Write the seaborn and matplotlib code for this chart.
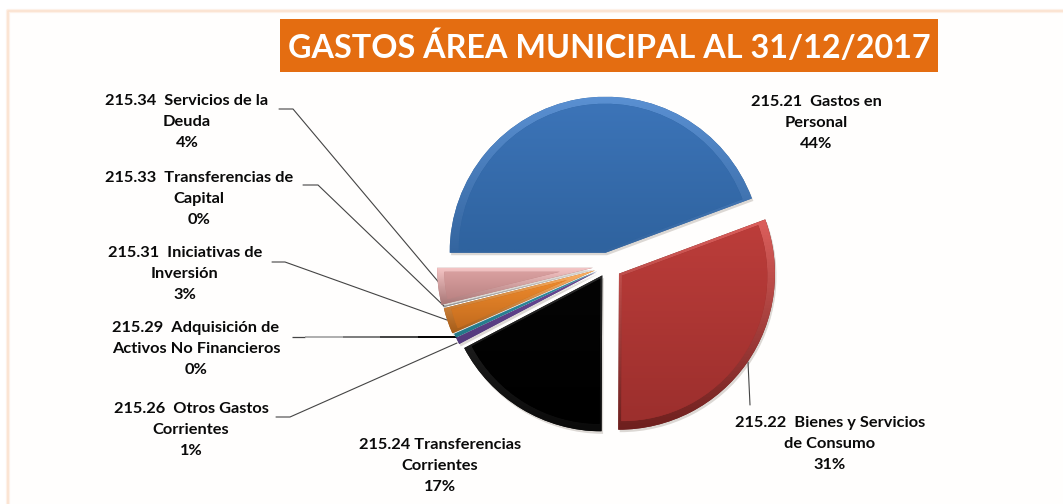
"""
Gastos area municipal al 31/12/2017, exploded pie with callouts.
"""
import numpy as np
import matplotlib.pyplot as plt
import seaborn as sns
from matplotlib.colors import LinearSegmentedColormap
from matplotlib.patches import Rectangle

# slices, clockwise from the 9 o'clock position
categories = ["215.21  Gastos en\nPersonal", "215.22  Bienes y Servicios\nde Consumo",
              "215.24 Transferencias\nCorrientes", "215.26  Otros Gastos\nCorrientes",
              "215.29  Adquisición de\nActivos No Financieros", "215.31  Iniciativas de\nInversión",
              "215.33  Transferencias de\nCapital", "215.34  Servicios de la\nDeuda"]
shares = [44.3, 30.7, 17.2, 0.7, 0.4, 2.7, 0.1, 3.8]
share_labels = ["44%", "31%", "17%", "1%", "0%", "3%", "0%", "4%"]
title = "GASTOS ÁREA MUNICIPAL AL 31/12/2017"

# per slice styles: offset from centre, fill top/bottom, rim top/bottom, straight edge inset
offsets = [13.5, 13.4, 11, 12, 12, 13.6, 14, 15]
fill_top = ["#3C74B8", "#BC3D3A", "#040404", "#6A4A9A", "#2E93A8", "#EE8A2C", "#C8C8C8", "#D9A0A0"]
fill_bot = ["#2F639F", "#9C2F2D", "#000000", "#54397C", "#247888", "#C46C1E", "#A8A8A8", "#BC8484"]
rim_top = ["#5A90D2", "#DC5F5B", "#2A2A2A", "#6A4A9A", "#2E93A8", "#FFB264", "#D8D8D8", "#F4C4C4"]
rim_bot = ["#34659F", "#6E1F1E", "#0A0A0A", "#54397C", "#247888", "#A65C18", "#909090", "#A87676"]
insets = [2.5, 3, 2, 0, 0, 2.5, 0, 4]

# label text centre in pixels and leader lines
label_pos = [(816, 123), (830, 444), (440, 466), (191, 430), (196, 349), (185, 274), (199, 199), (187, 122)]
leaders = [None,
           [(748, 362), (750, 405)],
           None,
           [(276, 417), (290, 417), (457, 343)],
           None,
           [(272, 262), (285, 262), (447, 320)],
           [(303, 185), (318, 185), (445, 307)],
           [(279, 109), (293, 109), (441, 285)]]
# the Adquisición leader fades from grey to black
fade_leader = [(292, 305, "#444444", 0.9), (305, 343, "#999999", 1.1), (343, 380, "#666666", 1.2),
               (380, 418, "#333333", 1.3), (418, 457, "#000000", 1.4)]

W, H = 1063, 504
CENTER = (608, H - 266)
RADIUS = 156
RIM = 7


def gradient_fill(ax, wedge, top, bottom):
    cmap = LinearSegmentedColormap.from_list("g", [top, bottom])
    box = wedge.get_path().get_extents(wedge.get_patch_transform())
    grad = np.linspace(0, 1, 64).reshape(-1, 1)
    im = ax.imshow(grad, cmap=cmap, aspect="auto", zorder=wedge.get_zorder(),
                   extent=(box.x0, box.x1, box.y0, box.y1))
    im.set_clip_path(wedge)


sns.set_theme(style="white")
plt.rcParams["font.family"] = ["Lato", "DejaVu Sans"]

fig = plt.figure(figsize=(W / 100, H / 100), dpi=100, facecolor="white")
ax = fig.add_axes([0, 0, 1, 1])

# frame is only a top and a left line running off the picture
ax.add_patch(Rectangle((8, 0), W - 8, H - 10, facecolor="#FFFEFD", edgecolor="none", zorder=1))
ax.plot([8, 8, W], [0, H - 10.5, H - 10.5], color="#FDF1E8", linewidth=3.0, zorder=1.1)
ax.plot([8, 8, W], [0, H - 10.5, H - 10.5], color="#FBE2CF", linewidth=1.2, zorder=1.2)

# soft shadow, rim layer, then the main fill inset from the rim
ax.pie(shares, explode=offsets, startangle=180, counterclock=False, radius=RADIUS,
       center=(CENTER[0] + 1.5, CENTER[1] - 2.5), colors=["#DCD8D4"] * len(shares),
       wedgeprops={"linewidth": 0, "zorder": 2}, normalize=True)
rim, _ = ax.pie(shares, explode=offsets, startangle=180, counterclock=False, radius=RADIUS,
                center=CENTER, colors=rim_bot, wedgeprops={"linewidth": 0, "zorder": 3}, normalize=True)
fill, _ = ax.pie(shares, explode=offsets, startangle=180, counterclock=False, radius=RADIUS - RIM,
                 center=CENTER, colors=fill_bot, wedgeprops={"linewidth": 0, "zorder": 4}, normalize=True)
for i in range(len(shares)):
    gradient_fill(ax, rim[i], rim_top[i], rim_bot[i])
    if insets[i] == 0:
        fill[i].set_visible(False)
        continue
    # push the inner wedge along its bisector so the straight edges get a bevel too
    mid = np.radians((fill[i].theta1 + fill[i].theta2) / 2)
    half = np.radians(abs(fill[i].theta2 - fill[i].theta1) / 2)
    shift = insets[i] / np.sin(half)
    cx, cy = fill[i].center
    fill[i].set_center((cx + shift * np.cos(mid), cy + shift * np.sin(mid)))
    fill[i].set_radius(RADIUS - RIM - shift)
    gradient_fill(ax, fill[i], fill_top[i], fill_bot[i])

ax.set_xlim(0, W)
ax.set_ylim(0, H)
ax.set_aspect("auto")
ax.axis("off")

# title box
ax.add_patch(Rectangle((280, H - 72), 658, 53, facecolor="#E46D11", edgecolor="none", zorder=5))
ax.text(288, H - 47, title, color="white", fontsize=23.3, fontweight="bold", va="center", ha="left", zorder=6)

for name, pct, (x, y), lead in zip(categories, share_labels, label_pos, leaders):
    ax.text(x, H - y, name + "\n" + pct, color="#0A0A0A", fontsize=11.8, fontweight="bold",
            ha="center", va="center", linespacing=1.62, zorder=6)
    if lead:
        xs, ys = zip(*lead)
        ax.plot(xs, [H - v for v in ys], color="#444444", linewidth=0.8, zorder=2.5)

for x0, x1, colour, lw in fade_leader:
    ax.plot([x0, x1], [H - 337, H - 337], color=colour, linewidth=lw, zorder=2.5, solid_capstyle="butt")

fig.savefig("out.png", dpi=100, facecolor="white")
